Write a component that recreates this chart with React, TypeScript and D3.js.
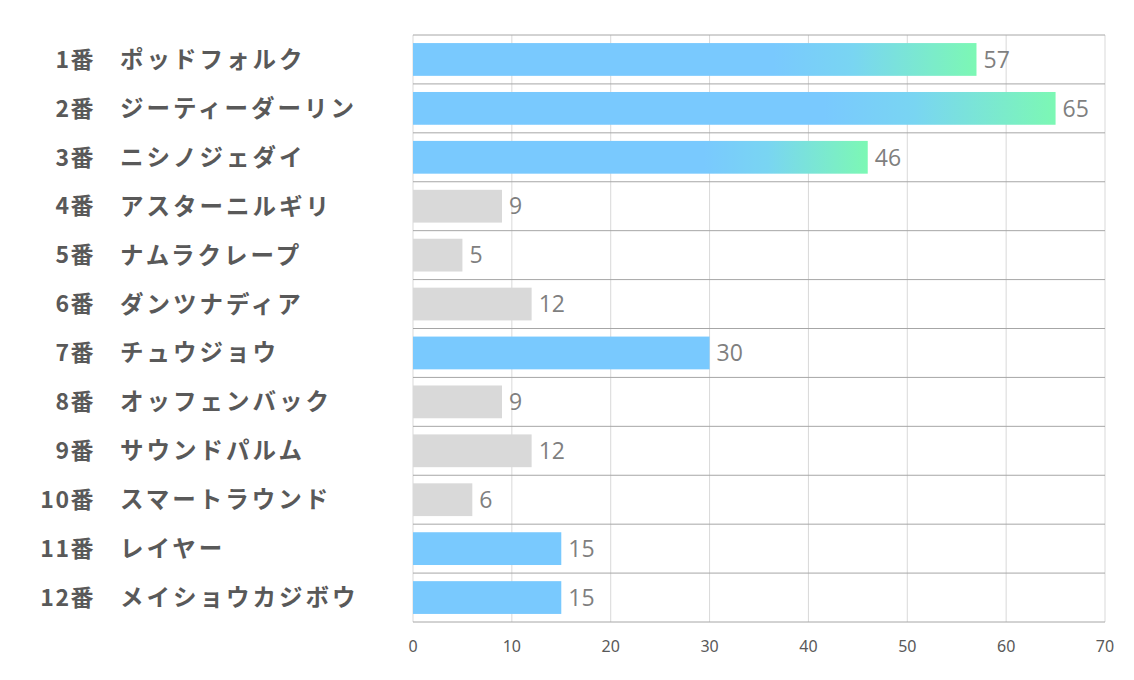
import React from "react";
import * as d3 from "d3";

const numbers = ["1番", "2番", "3番", "4番", "5番", "6番", "7番", "8番", "9番", "10番", "11番", "12番"];
const names = ["ポッドフォルク", "ジーティーダーリン", "ニシノジェダイ", "アスターニルギリ", "ナムラクレープ", "ダンツナディア", "チュウジョウ", "オッフェンバック", "サウンドパルム", "スマートラウンド", "レイヤー", "メイショウカジボウ"];
const values = [57, 65, 46, 9, 5, 12, 30, 9, 12, 6, 15, 15];
const kinds = ["grad", "grad", "grad", "gray", "gray", "gray", "blue", "gray", "gray", "gray", "blue", "blue"];
const xTicks = [0, 10, 20, 30, 40, 50, 60, 70];

const W = 1134, H = 680;
const left = 413, right = 1105, top = 35, bottom = 622;

export default function App() {
  const x = d3.scaleLinear().domain([0, 70]).range([left, right]);
  const y = d3.scaleBand<number>().domain(d3.range(values.length)).range([top, bottom]).paddingInner(0.33).paddingOuter(0.165);
  const rowH = (bottom - top) / values.length;
  const fillFor = (k: string) => (k === "grad" ? "url(#g)" : k === "blue" ? "#79c9fe" : "#d9d9d9");
  return (
    <svg width={W} height={H} style={{ position: "absolute", left: 0, top: 0, background: "#fff" }}>
      <defs>
        <linearGradient id="g" x1="0" x2="1" y1="0" y2="0">
          <stop offset="0" stopColor="#79c9fe" />
          <stop offset="0.64" stopColor="#79c9fe" />
          <stop offset="0.78" stopColor="#79d5f2" />
          <stop offset="1" stopColor="#7cf8b4" />
        </linearGradient>
      </defs>
      {xTicks.map((t) => (
        <line key={"v" + t} x1={x(t)} x2={x(t)} y1={top} y2={bottom} stroke="#d9d9d9" strokeWidth={1} />
      ))}
      {d3.range(values.length + 1).map((i) => (
        <line key={"h" + i} x1={left} x2={right} y1={top + i * rowH} y2={top + i * rowH} stroke="#a6a6a6" strokeWidth={1} />
      ))}
      {values.map((v, i) => (
        <g key={i}>
          <rect x={x(0)} y={y(i)} width={x(v) - x(0)} height={y.bandwidth()} fill={fillFor(kinds[i])} />
          <text x={x(v) + 7} y={(y(i) as number) + y.bandwidth() / 2} dy="0.36em" fontSize={23} fill="#7f7f7f" fontFamily="'Open Sans', 'Noto Sans', sans-serif">
            {v}
          </text>
          <text x={95} y={top + (i + 0.5) * rowH} dy="0.36em" textAnchor="end" fontSize={23} fontWeight="bold" fill="#595959" fontFamily="'Noto Sans CJK JP', sans-serif" letterSpacing={1.5}>
            {numbers[i]}
          </text>
          <text x={120} y={top + (i + 0.5) * rowH} dy="0.36em" fontSize={23.5} fontWeight="bold" fill="#595959" fontFamily="'Noto Sans CJK JP', sans-serif" letterSpacing={3}>
            {names[i]}
          </text>
        </g>
      ))}
      {xTicks.map((t) => (
        <text key={"t" + t} x={x(t)} y={646} dy="0.36em" textAnchor="middle" fontSize={16} fill="#595959" fontFamily="'Noto Sans', sans-serif">
          {t}
        </text>
      ))}
    </svg>
  );
}
